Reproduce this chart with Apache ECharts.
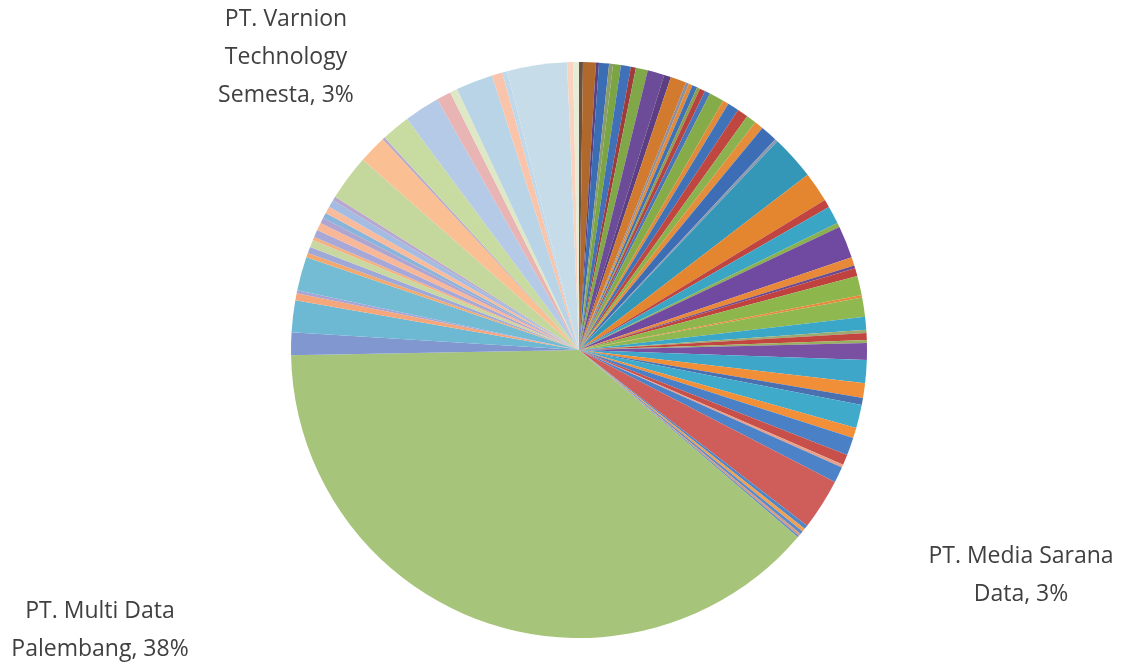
<!DOCTYPE html>
<html>
<head>
<meta charset="utf-8">
<script src="https://cdn.jsdelivr.net/npm/echarts@6/dist/echarts.min.js"></script>
<style>html,body{margin:0;padding:0;background:#fff;}#c{width:1126px;height:663px;}</style>
</head>
<body>
<div id="c"></div>
<script>
// Shares (%), clockwise from 12 o'clock
const valuesRight = [0.22,0.72,0.17,0.56,0.22,0.44,0.56,0.28,0.67,0.94,0.39,0.89,0.17,0.22,0.28,0.17,0.31,0.31,0.83,0.33,0.64,0.61,0.56,0.50,0.94,0.17,2.50,1.69,0.44,1.00,0.25,1.81,0.47,0.17,0.44,1.08,0.14,1.08,0.72,0.17,0.39,0.17,0.94,1.28,0.83,0.39,1.31,0.58,1.00,0.58,0.17,0.89,2.86,0.22,0.19,0.17,0.14,0.11];
const mediaSaranaIndex = 52;
const mainName = "PT. Multi Data Palembang";
const mainValue = 38.44;
const valuesLeft = [1.28,1.78,0.39,0.17,1.89,0.25,0.36,0.42,0.17,0.42,0.44,0.31,0.31,0.39,0.42,0.22,2.56,1.58,0.14,1.61,2.00,0.81,0.42,2.08,0.58,0.28,3.36,0.33,0.33];
const varnionIndex = 26;
const labelledNames = {
  "PT. Varnion Technology Semesta": "PT. Varnion\nTechnology\nSemesta",
  "PT. Media Sarana Data": "PT. Media Sarana\nData",
  "PT. Multi Data Palembang": "PT. Multi Data\nPalembang"
};

// Styles
const colorsRight = ["#6b5040","#b0692c","#5b4080","#3b6db5","#8a9c6c","#7ba443","#3f70b8","#9e3b3b","#80a848","#6c4c98","#5c3f82","#d27a2e","#8c90a0","#e08a3a","#4071b5","#8aa050","#b8423e","#4a76b8","#86ac4a","#e08a3a","#4072b8","#c0473f","#8cb24f","#e58d3a","#3d6eb5","#8c9ab0","#3597b8","#e3862f","#c0443f","#3ba5c6","#8ab050","#7049a0","#e8893a","#6a4a90","#c0423e","#8db64c","#e8893a","#8fb850","#3aa6c8","#9aaa70","#c34540","#98b060","#7a50a2","#3ea7c9","#f08f38","#4a70b0","#40aacb","#f2903a","#4a80c6","#c8504a","#e8a08a","#4c82c8","#cf5d5a","#4e86c8","#f0a050","#5a8ac8","#d89a80","#6a90c0"];
const mainColor = "#a6c47a";
const colorsLeft = ["#8097d0","#6db9d3","#f5a67a","#a8a4d4","#74bcd4","#f2a86e","#a0a8d8","#c8d8a0","#f5b080","#a8a8d8","#f8b898","#b0a4d0","#8ab4da","#f8bc9c","#a4bce2","#b8a8d0","#c4d89e","#fac094","#b8a8cc","#c8dca2","#b4cae6","#e8b4b4","#dfe8c4","#b8d4e6","#f9c4aa","#c0d8ea","#c6dde9","#f8d4c0","#e6ecd6"];
const labelPos = {
  "PT. Varnion Technology Semesta": [286, 57],
  "PT. Media Sarana Data": [1021, 575],
  "PT. Multi Data Palembang": [100, 630]
};

const data = [];
valuesRight.forEach((v, i) => {
  const name = i === mediaSaranaIndex ? "PT. Media Sarana Data" : "PT. Lainnya A" + (i + 1);
  data.push({ name, value: v, itemStyle: { color: colorsRight[i] } });
});
data.push({ name: mainName, value: mainValue, itemStyle: { color: mainColor } });
valuesLeft.forEach((v, i) => {
  const name = i === varnionIndex ? "PT. Varnion Technology Semesta" : "PT. Lainnya B" + (i + 1);
  data.push({ name, value: v, itemStyle: { color: colorsLeft[i] } });
});
data.forEach(d => {
  d.label = { show: !!labelledNames[d.name] };
});

const chart = echarts.init(document.getElementById('c'), null, { renderer: 'canvas' });
chart.setOption({
  animation: false,
  backgroundColor: '#ffffff',
  series: [{
    type: 'pie',
    center: [579, 350],
    radius: [0, 288],
    startAngle: 90,
    clockwise: true,
    avoidLabelOverlap: false,
    minAngle: 0,
    itemStyle: { borderWidth: 0 },
    emphasis: { disabled: true },
    labelLine: { show: false },
    label: {
      position: 'outside',
      fontFamily: 'Open Sans',
      fontSize: 23,
      lineHeight: 38,
      color: '#404040',
      align: 'center',
      formatter: p => labelledNames[p.name] + ', ' + Math.round(p.percent) + '%'
    },
    labelLayout: params => {
      const name = data[params.dataIndex].name;
      const pos = labelPos[name];
      if (!pos) return {};
      return { x: pos[0], y: pos[1], align: 'center', verticalAlign: 'middle' };
    },
    data
  }]
});
</script>
</body>
</html>
